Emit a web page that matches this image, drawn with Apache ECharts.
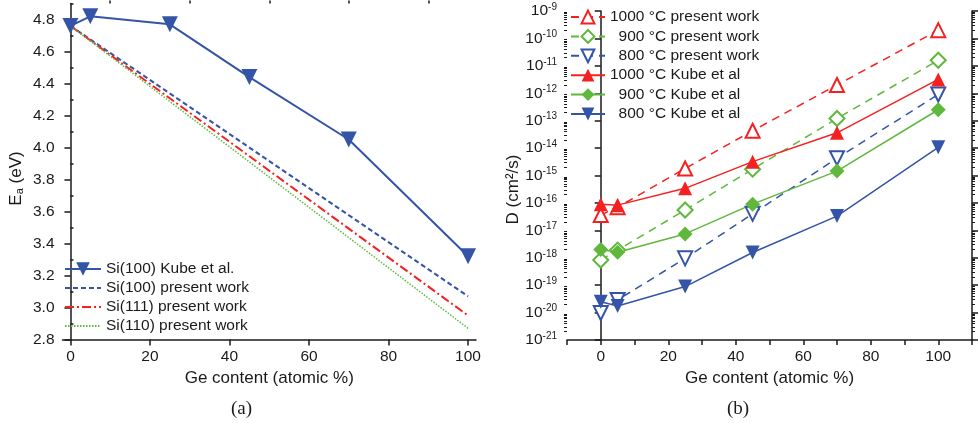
<!DOCTYPE html>
<html><head><meta charset="utf-8">
<script src="https://cdn.jsdelivr.net/npm/echarts@6/dist/echarts.min.js"></script>
<style>html,body{margin:0;padding:0;background:#fff;}#c{width:978px;height:423px;}</style>
</head><body><div id="c"></div>
<script>
// ---- Panel (a): activation energy ----
const geA = [0, 5, 25, 45, 70, 100];
const kubeEa = [4.76, 4.82, 4.77, 4.44, 4.05, 3.32];
const presX = [0, 100];
const si100Ea = [4.76, 3.07];
const si111Ea = [4.76, 2.95];
const si110Ea = [4.76, 2.87];
const eaTicks = [2.8, 3.0, 3.2, 3.4, 3.6, 3.8, 4.0, 4.2, 4.4, 4.6, 4.8];
const eaMinor = [2.9, 3.1, 3.3, 3.5, 3.7, 3.9, 4.1, 4.3, 4.5, 4.7, 4.9];
const geTicksA = [0, 20, 40, 60, 80, 100];
const geMinorA = [10, 30, 50, 70, 90];

// ---- Panel (b): diffusion coefficient (cm^2/s) ----
const geB = [0, 5, 25, 45, 70, 100];
const d1000Pres = [3.6e-17, 7.0e-17, 1.8e-15, 4.3e-14, 2.0e-12, 2.0e-10];
const d900Pres  = [8.3e-19, 1.9e-18, 5.5e-17, 1.7e-15, 1.2e-13, 1.6e-11];
const d800Pres  = [9.6e-21, 2.9e-20, 9.5e-19, 4.0e-17, 4.3e-15, 9.0e-13];
const d1000Kube = [9.0e-17, 8.3e-17, 3.4e-16, 3.2e-15, 3.6e-14, 3.2e-12];
const d900Kube  = [2.0e-18, 1.6e-18, 7.4e-18, 9.0e-17, 1.45e-15, 2.5e-13];
const d800Kube  = [2.5e-20, 1.75e-20, 8.9e-20, 1.55e-18, 3.3e-17, 1.07e-14];
const dExpMin = -21, dExpMax = -9;

const BLUE = '#3454a8', RED = '#f52020', GREEN = '#5fb83c';
const TXT = '#1a1a1a';
const FONT = 'Liberation Sans, Arial, sans-serif';

const pairs = (xs, ys) => xs.map((x, i) => [x, ys[i]]);
const logPairs = (xs, ys) => xs.map((x, i) => [x, Math.log10(ys[i])]);

// minor log ticks (2..9 x 10^n)
const logMinor = [];
for (let n = dExpMin; n < dExpMax; n++) for (let k = 2; k <= 9; k++) logMinor.push(n + Math.log10(k));

const axisLine = {show: true, lineStyle: {color: TXT, width: 1.5}};
const noSplit = {show: false};
const hideSym = {opacity: 0};

const option = {
  animation: false,
  backgroundColor: '#fff',
  textStyle: {fontFamily: FONT, color: TXT},
  title: [
    {text: '(a)', left: 226, top: 395, textStyle: {fontFamily: 'Liberation Serif, serif', fontSize: 19, fontWeight: 'normal', color: TXT}},
    {text: '(b)', left: 722, top: 395, textStyle: {fontFamily: 'Liberation Serif, serif', fontSize: 19, fontWeight: 'normal', color: TXT}}
  ],
  grid: [
    {left: 62.5, top: 3.5, width: 413.5, height: 336},
    {left: 567, top: 11, width: 405, height: 329}
  ],
  legend: [
    {
      data: [
        {name: 'Si(100) Kube et al.'},
        {name: 'Si(100) present work', itemStyle: hideSym},
        {name: 'Si(111) present work', itemStyle: hideSym},
        {name: 'Si(110) present work', itemStyle: hideSym}
      ],
      orient: 'vertical', left: 64, top: 261, padding: 0,
      itemWidth: 36, itemHeight: 17, itemGap: 3,
      textStyle: {fontSize: 15.5, color: TXT, fontFamily: FONT}
    },
    {
      data: ['1000 \u00b0C present work', '  900 \u00b0C present work', '  800 \u00b0C present work',
             '1000 \u00b0C Kube et al', '  900 \u00b0C Kube et al', '  800 \u00b0C Kube et al'],
      orient: 'vertical', left: 570, top: 9, padding: 0,
      itemWidth: 34, itemHeight: 16, itemGap: 3.4,
      textStyle: {fontSize: 15.5, color: TXT, fontFamily: FONT}
    }
  ],
  xAxis: [
    {
      gridIndex: 0, type: 'value', min: -2, max: 102,
      axisLine: axisLine, splitLine: noSplit,
      axisTick: {show: true, customValues: geTicksA, length: 6, lineStyle: {color: TXT, width: 1.5}},
      axisLabel: {customValues: geTicksA, fontSize: 15.5, color: TXT, margin: 9},
      name: 'Ge content (atomic %)', nameLocation: 'middle', nameGap: 25,
      nameTextStyle: {fontSize: 17, color: TXT}
    },
    {
      gridIndex: 0, type: 'value', min: -2, max: 102,
      axisLine: {show: false}, splitLine: noSplit,
      axisTick: {show: true, customValues: geMinorA, length: 3, lineStyle: {color: TXT, width: 1.5}},
      axisLabel: {show: false}
    },
    {
      gridIndex: 1, type: 'value', min: -10, max: 110, interval: 10,
      axisLine: axisLine, splitLine: noSplit,
      axisTick: {show: true, length: 5, lineStyle: {color: TXT, width: 1.5}},
      axisLabel: {fontSize: 15.5, color: TXT, margin: 9,
        formatter: v => (v >= 0 && v <= 100 && v % 20 === 0) ? String(v) : ''},
      name: 'Ge content (atomic %)', nameLocation: 'middle', nameGap: 25,
      nameTextStyle: {fontSize: 17, color: TXT}
    }
  ],
  yAxis: [
    {
      gridIndex: 0, type: 'value', min: 2.8, max: 4.9,
      axisLine: axisLine, splitLine: noSplit,
      axisTick: {show: true, customValues: eaTicks, length: 6, lineStyle: {color: TXT, width: 1.5}},
      axisLabel: {customValues: eaTicks, fontSize: 15.5, color: TXT, margin: 8, formatter: v => v.toFixed(1)},
      name: 'E{sub|a} (eV)', nameLocation: 'middle', nameGap: 37,
      nameTextStyle: {fontSize: 17, color: TXT, padding: [0, 14, 0, 0],
        rich: {sub: {fontSize: 11, verticalAlign: 'bottom', padding: [7, 0, 0, 0]}}}
    },
    {
      gridIndex: 0, type: 'value', min: 2.8, max: 4.9,
      axisLine: {show: false}, splitLine: noSplit,
      axisTick: {show: true, customValues: eaMinor, length: 3, lineStyle: {color: TXT, width: 1.5}},
      axisLabel: {show: false}
    },
    {
      gridIndex: 1, type: 'value', min: dExpMin, max: dExpMax, interval: 1, position: 'left',
      axisLine: axisLine, splitLine: noSplit,
      axisTick: {show: true, length: 6, lineStyle: {color: TXT, width: 1.5}},
      axisLabel: {fontSize: 15.5, color: TXT, margin: 10,
        formatter: v => '{b|10}{s|' + Math.round(v) + '}',
        rich: {b: {fontSize: 15.5, color: TXT, lineHeight: 18}, s: {fontSize: 10, color: TXT, verticalAlign: 'top', lineHeight: 10}}},
      name: 'D (cm\u00b2/s)', nameLocation: 'middle', nameGap: 41,
      nameTextStyle: {fontSize: 17, color: TXT, padding: [0, 28, 0, 0]}
    },
    {
      gridIndex: 1, type: 'value', min: dExpMin, max: dExpMax, position: 'left',
      axisLine: {show: false}, splitLine: noSplit,
      axisTick: {show: true, customValues: logMinor, length: 3, lineStyle: {color: TXT, width: 1}},
      axisLabel: {show: false}
    },
    {
      gridIndex: 1, type: 'value', min: dExpMin, max: dExpMax, interval: 1, position: 'right',
      axisLine: axisLine, splitLine: noSplit,
      axisTick: {show: true, length: 6, lineStyle: {color: TXT, width: 1.5}},
      axisLabel: {show: false}
    },
    {
      gridIndex: 1, type: 'value', min: dExpMin, max: dExpMax, position: 'right',
      axisLine: {show: false}, splitLine: noSplit,
      axisTick: {show: true, customValues: logMinor, length: 3, lineStyle: {color: TXT, width: 1}},
      axisLabel: {show: false}
    }
  ],
  series: [
    {name: 'Si(100) Kube et al.', type: 'line', xAxisIndex: 0, yAxisIndex: 0, data: pairs(geA, kubeEa),
     symbol: 'triangle', symbolRotate: 180, symbolSize: 16, color: BLUE, lineStyle: {width: 2, color: BLUE}, z: 5},
    {name: 'Si(100) present work', type: 'line', xAxisIndex: 0, yAxisIndex: 0, data: pairs(presX, si100Ea),
     symbol: 'none', color: BLUE, lineStyle: {width: 2, color: BLUE, type: [5, 3]}},
    {name: 'Si(111) present work', type: 'line', xAxisIndex: 0, yAxisIndex: 0, data: pairs(presX, si111Ea),
     symbol: 'none', color: RED, lineStyle: {width: 2, color: RED, type: [9, 3, 2, 3]}},
    {name: 'Si(110) present work', type: 'line', xAxisIndex: 0, yAxisIndex: 0, data: pairs(presX, si110Ea),
     symbol: 'none', color: GREEN, lineStyle: {width: 1.5, color: GREEN, type: [1.5, 1.5]}},

    {name: '1000 \u00b0C present work', type: 'line', xAxisIndex: 2, yAxisIndex: 2, data: logPairs(geB, d1000Pres),
     symbol: 'emptyTriangle', symbolSize: 14, color: RED, itemStyle: {borderWidth: 1.5},
     lineStyle: {width: 1.5, color: RED, type: [8, 6]}},
    {name: '  900 \u00b0C present work', type: 'line', xAxisIndex: 2, yAxisIndex: 2, data: logPairs(geB, d900Pres),
     symbol: 'emptyDiamond', symbolSize: 15, color: GREEN, itemStyle: {borderWidth: 1.5},
     lineStyle: {width: 1.5, color: GREEN, type: [8, 6]}},
    {name: '  800 \u00b0C present work', type: 'line', xAxisIndex: 2, yAxisIndex: 2, data: logPairs(geB, d800Pres),
     symbol: 'emptyTriangle', symbolRotate: 180, symbolSize: 14, color: BLUE, itemStyle: {borderWidth: 1.5},
     lineStyle: {width: 1.5, color: BLUE, type: [8, 6]}},
    {name: '1000 \u00b0C Kube et al', type: 'line', xAxisIndex: 2, yAxisIndex: 2, data: logPairs(geB, d1000Kube),
     symbol: 'triangle', symbolSize: 14, color: RED, lineStyle: {width: 1.5, color: RED}},
    {name: '  900 \u00b0C Kube et al', type: 'line', xAxisIndex: 2, yAxisIndex: 2, data: logPairs(geB, d900Kube),
     symbol: 'diamond', symbolSize: 15, color: GREEN, lineStyle: {width: 1.5, color: GREEN}},
    {name: '  800 \u00b0C Kube et al', type: 'line', xAxisIndex: 2, yAxisIndex: 2, data: logPairs(geB, d800Kube),
     symbol: 'triangle', symbolRotate: 180, symbolSize: 14, color: BLUE, lineStyle: {width: 1.5, color: BLUE}}
  ]
};

const chart = echarts.init(document.getElementById('c'), null, {renderer: 'canvas'});
chart.setOption(option);
</script>
</body></html>
